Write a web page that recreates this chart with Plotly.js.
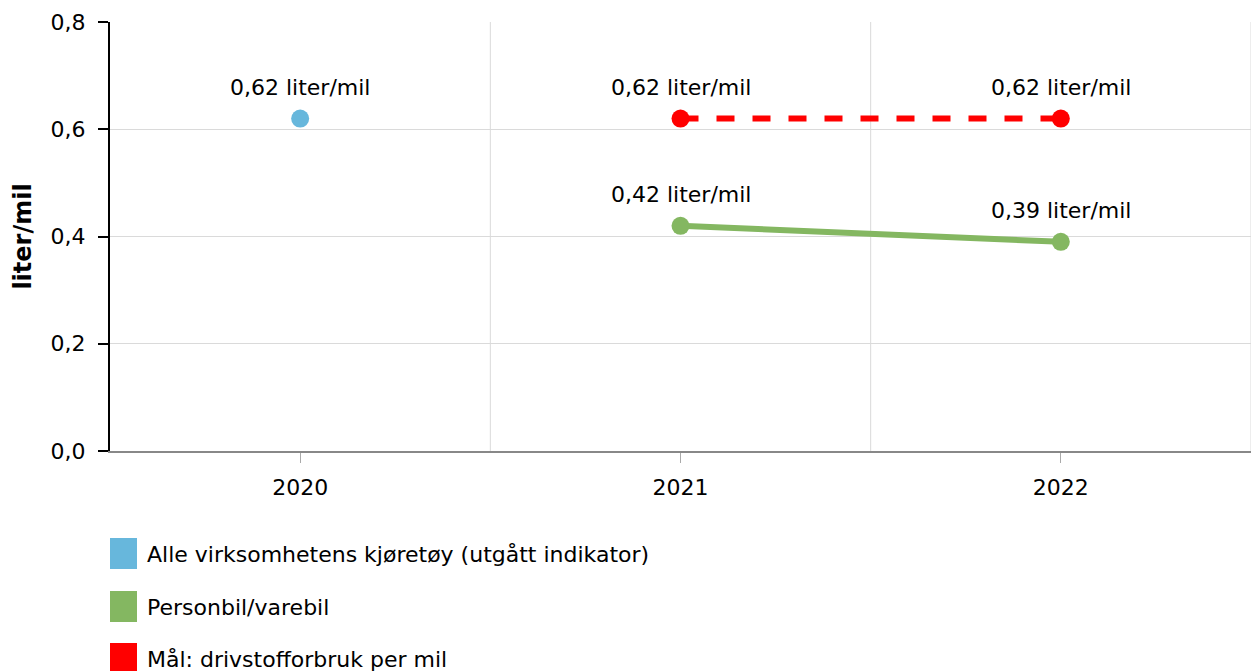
<!DOCTYPE html>
<html>
<head>
<meta charset="utf-8">
<script src="https://cdn.plot.ly/plotly-3.0.1.min.js"></script>
<style>html,body{margin:0;padding:0;background:#fff;}#chart{width:1253px;height:671px;}</style>
</head>
<body>
<div id="chart"></div>
<script>
const years = ["2020", "2021", "2022"];
const seriesNames = ["Alle virksomhetens kjøretøy (utgått indikator)", "Personbil/varebil", "Mål: drivstofforbruk per mil"];
const seriesColors = ["#67b7dc", "#84b761", "#ff0000"];
const alleValues = [0.62, null, null];
const personbilValues = [null, 0.42, 0.39];
const maalValues = [null, 0.62, 0.62];
const yTicks = [0, 0.2, 0.4, 0.6, 0.8];
const yTitle = "liter/mil";
const unit = "liter/mil";

const font = "DejaVu Sans, Verdana, sans-serif";
const FS = 22;
const W = 1253, H = 671;
const M = {l: 110, r: 2, t: 22, b: 220};
const pw = W - M.l - M.r, ph = H - M.t - M.b;
const px2x = p => (p - M.l) / pw;
const px2y = p => (H - M.b - p) / ph;

function trace(vals, idx, dash) {
  return {
    x: years, y: vals, type: 'scatter', mode: 'lines+markers',
    name: seriesNames[idx],
    line: {color: seriesColors[idx], width: 6, dash: dash || 'solid'},
    marker: {color: seriesColors[idx], size: 18},
    cliponaxis: false, hoverinfo: 'skip', showlegend: false
  };
}
const data = [trace(alleValues, 0), trace(maalValues, 2, 'dash'), trace(personbilValues, 1)];

const shapes = [];
const annotations = [];
// value labels (x given as category index)
[alleValues, maalValues, personbilValues].forEach(vals => {
  vals.forEach((v, i) => {
    if (v === null) return;
    annotations.push({x: i, y: v, xref: 'x', yref: 'y', showarrow: false, yshift: 31,
      yanchor: 'middle', xanchor: 'center',
      text: v.toFixed(2).replace('.', ',') + ' ' + unit,
      font: {family: font, size: FS, color: '#000'}});
  });
});
// category boundary grid lines
for (let i = 0; i < years.length; i++) {
  shapes.push({type: 'line', xref: 'x', yref: 'paper', x0: i + 0.5, x1: i + 0.5, y0: 0, y1: 1,
    line: {color: '#dadada', width: 1}, layer: 'below'});
}
// custom legend
const legTop = [538, 591, 643];
seriesNames.forEach((n, i) => {
  shapes.push({type: 'rect', xref: 'paper', yref: 'paper', x0: px2x(110), x1: px2x(137),
    y0: px2y(legTop[i]), y1: px2y(legTop[i] + 31), fillcolor: seriesColors[i], line: {width: 0}});
  annotations.push({xref: 'paper', yref: 'paper', x: px2x(145), y: px2y(legTop[i] + 16),
    xanchor: 'left', yanchor: 'middle', showarrow: false, text: n,
    font: {family: font, size: FS, color: '#000'}});
});

const layout = {
  width: W, height: H, margin: M,
  paper_bgcolor: '#fff', plot_bgcolor: '#fff',
  separators: ', ',
  showlegend: false,
  font: {family: font, size: FS, color: '#000'},
  xaxis: {type: 'category', range: [-0.5, 2.5], showgrid: false, zeroline: false,
    showline: true, linecolor: '#888', linewidth: 2, ticks: 'outside', ticklen: 10, tickcolor: '#aaa',
    tickwidth: 1, ticklabelstandoff: 6, tickfont: {family: font, size: FS, color: '#000'}, fixedrange: true},
  yaxis: {range: [0, 0.8], tickvals: yTicks, tickformat: '.1f', showgrid: true, gridcolor: '#dadada',
    zeroline: false, showline: true, linecolor: '#000', linewidth: 2, ticks: 'outside', ticklen: 10,
    tickcolor: '#000', tickwidth: 2, ticklabelstandoff: 8, tickfont: {family: font, size: FS, color: '#000'},
    title: {text: '<b>' + yTitle + '</b>', font: {family: font, size: 24, color: '#000'}, standoff: 12},
    fixedrange: true},
  shapes: shapes, annotations: annotations
};
Plotly.newPlot('chart', data, layout, {displayModeBar: false, staticPlot: true});
</script>
</body>
</html>
